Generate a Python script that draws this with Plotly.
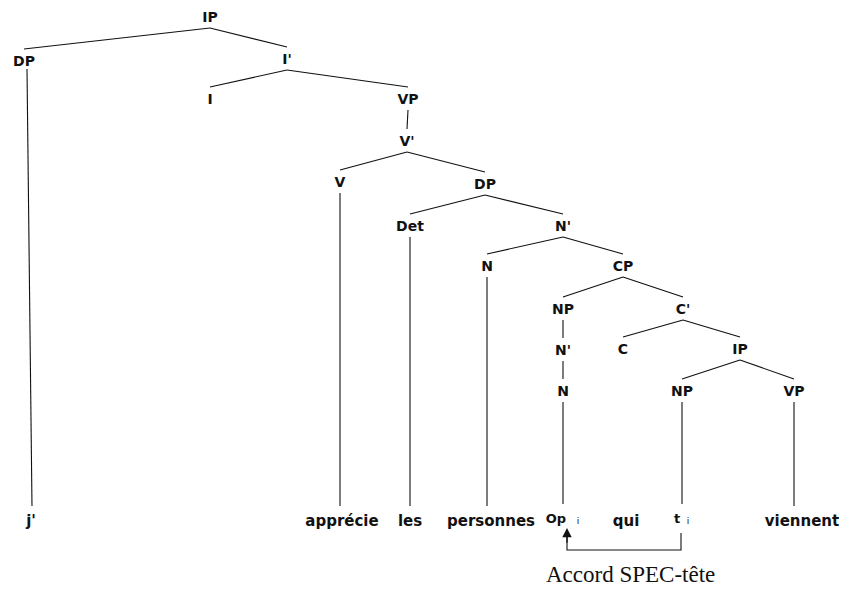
import plotly.graph_objects as go

# ---------------------------------------------------------------------------
# Tree data: nodes (label, x, y) and edges (parent -> child), leaves (words)
# ---------------------------------------------------------------------------

node_labels = ["IP", "DP", "I'", "I", "VP", "V'", "V", "DP", "Det", "N'",
               "N", "CP", "NP", "C'", "N'", "C", "IP", "N", "NP", "VP"]
node_x = [210, 24, 287, 210, 408, 407, 340, 485, 410, 563,
          487, 623, 563, 683, 563, 623, 740, 563, 682, 794]
node_y = [18, 62, 60, 100, 100, 142, 183, 185, 227, 227,
          267, 267, 310, 310, 351, 350, 350, 392, 392, 392]

edge_parent = [0, 0, 2, 2, 4, 5, 5, 7, 7, 9, 9, 11, 11, 12, 14, 13, 13, 16, 16]
edge_child = [1, 2, 3, 4, 5, 6, 7, 8, 9, 10, 11, 12, 13, 14, 17, 15, 16, 18, 19]

leaf_words = ["j'", "apprécie", "les", "personnes", "Op", "qui", "t", "viennent"]
leaf_x = [31, 342, 410, 491, 556, 626, 677, 802]
leaf_y = [522, 522, 522, 522, 520, 522, 520, 522]
leaf_parent = [1, 6, 8, 10, 17, None, 18, 19]
leaf_font = [15, 15, 15, 15, 13, 15, 13, 15]

index_labels = ["i", "i"]
index_x = [578, 688]
index_y = [522, 522]

agree_from, agree_to = 6, 4      # leaf t -> leaf Op
agree_y = 550
agree_label = "Accord SPEC-tête"

GAP_BELOW = 10
GAP_ABOVE = 13
LEAF_GAP = 16
LINE = dict(color="#111111", width=1.1)

# the page body has an 8px margin: shift the plotting window to compensate
PAGE_OFFSET = 8
W, H = 847, 594

fig = go.Figure()

# branches
xs, ys = [], []
for p, c in zip(edge_parent, edge_child):
    xs += [node_x[p], node_x[c], None]
    ys += [node_y[p] + GAP_BELOW, node_y[c] - GAP_ABOVE, None]
for i, p in enumerate(leaf_parent):
    if p is None:
        continue
    # the long j' branch drifts a little to reach its word
    x_end = leaf_x[i] + 1 if i == 0 else node_x[p]
    xs += [node_x[p] + (3 if i == 0 else 0), x_end, None]
    ys += [node_y[p] + GAP_BELOW - 3 * (i == 0), leaf_y[i] - LEAF_GAP, None]
fig.add_trace(go.Scatter(x=xs, y=ys, mode="lines", line=LINE, hoverinfo="skip"))

# node labels
fig.add_trace(go.Scatter(
    x=node_x, y=node_y, mode="text", text=node_labels,
    textfont=dict(family="DejaVu Sans", size=14, color="#111111", weight="bold"),
    hoverinfo="skip", cliponaxis=False,
))

# words
fig.add_trace(go.Scatter(
    x=leaf_x, y=leaf_y, mode="text", text=leaf_words,
    textfont=dict(family="DejaVu Sans", size=leaf_font, color="#111111", weight="bold"),
    hoverinfo="skip", cliponaxis=False,
))
fig.add_trace(go.Scatter(
    x=index_x, y=index_y, mode="text", text=index_labels,
    textfont=dict(family="DejaVu Sans", size=9, color="#111111"),
    hoverinfo="skip", cliponaxis=False,
))

# spec-head agreement arrow
x_t = node_x[leaf_parent[agree_from]] - 1
x_op = node_x[leaf_parent[agree_to]] + 4
fig.add_trace(go.Scatter(
    x=[x_t, x_t, x_op, x_op],
    y=[leaf_y[agree_from] + 13, agree_y, agree_y, agree_y - 8],
    mode="lines", line=LINE, hoverinfo="skip",
))
fig.add_annotation(
    x=x_op, y=leaf_y[agree_to] + 8, ax=x_op, ay=agree_y - 6,
    xref="x", yref="y", axref="x", ayref="y",
    showarrow=True, arrowhead=2, arrowsize=1.1, arrowwidth=1.7,
    arrowcolor="#111111", text="",
)
fig.add_annotation(
    x=(x_t + x_op) / 2 + 6, y=574, xref="x", yref="y", text=agree_label,
    showarrow=False,
    font=dict(family="Liberation Serif", size=23, color="#111111"),
)

fig.update_layout(
    width=W - PAGE_OFFSET, height=H - PAGE_OFFSET,
    margin=dict(l=0, r=0, t=0, b=0),
    paper_bgcolor="white", plot_bgcolor="white",
    showlegend=False,
    xaxis=dict(range=[PAGE_OFFSET, W], visible=False, fixedrange=True),
    yaxis=dict(range=[H, PAGE_OFFSET], visible=False, fixedrange=True),
)

fig.write_html("out.html")
